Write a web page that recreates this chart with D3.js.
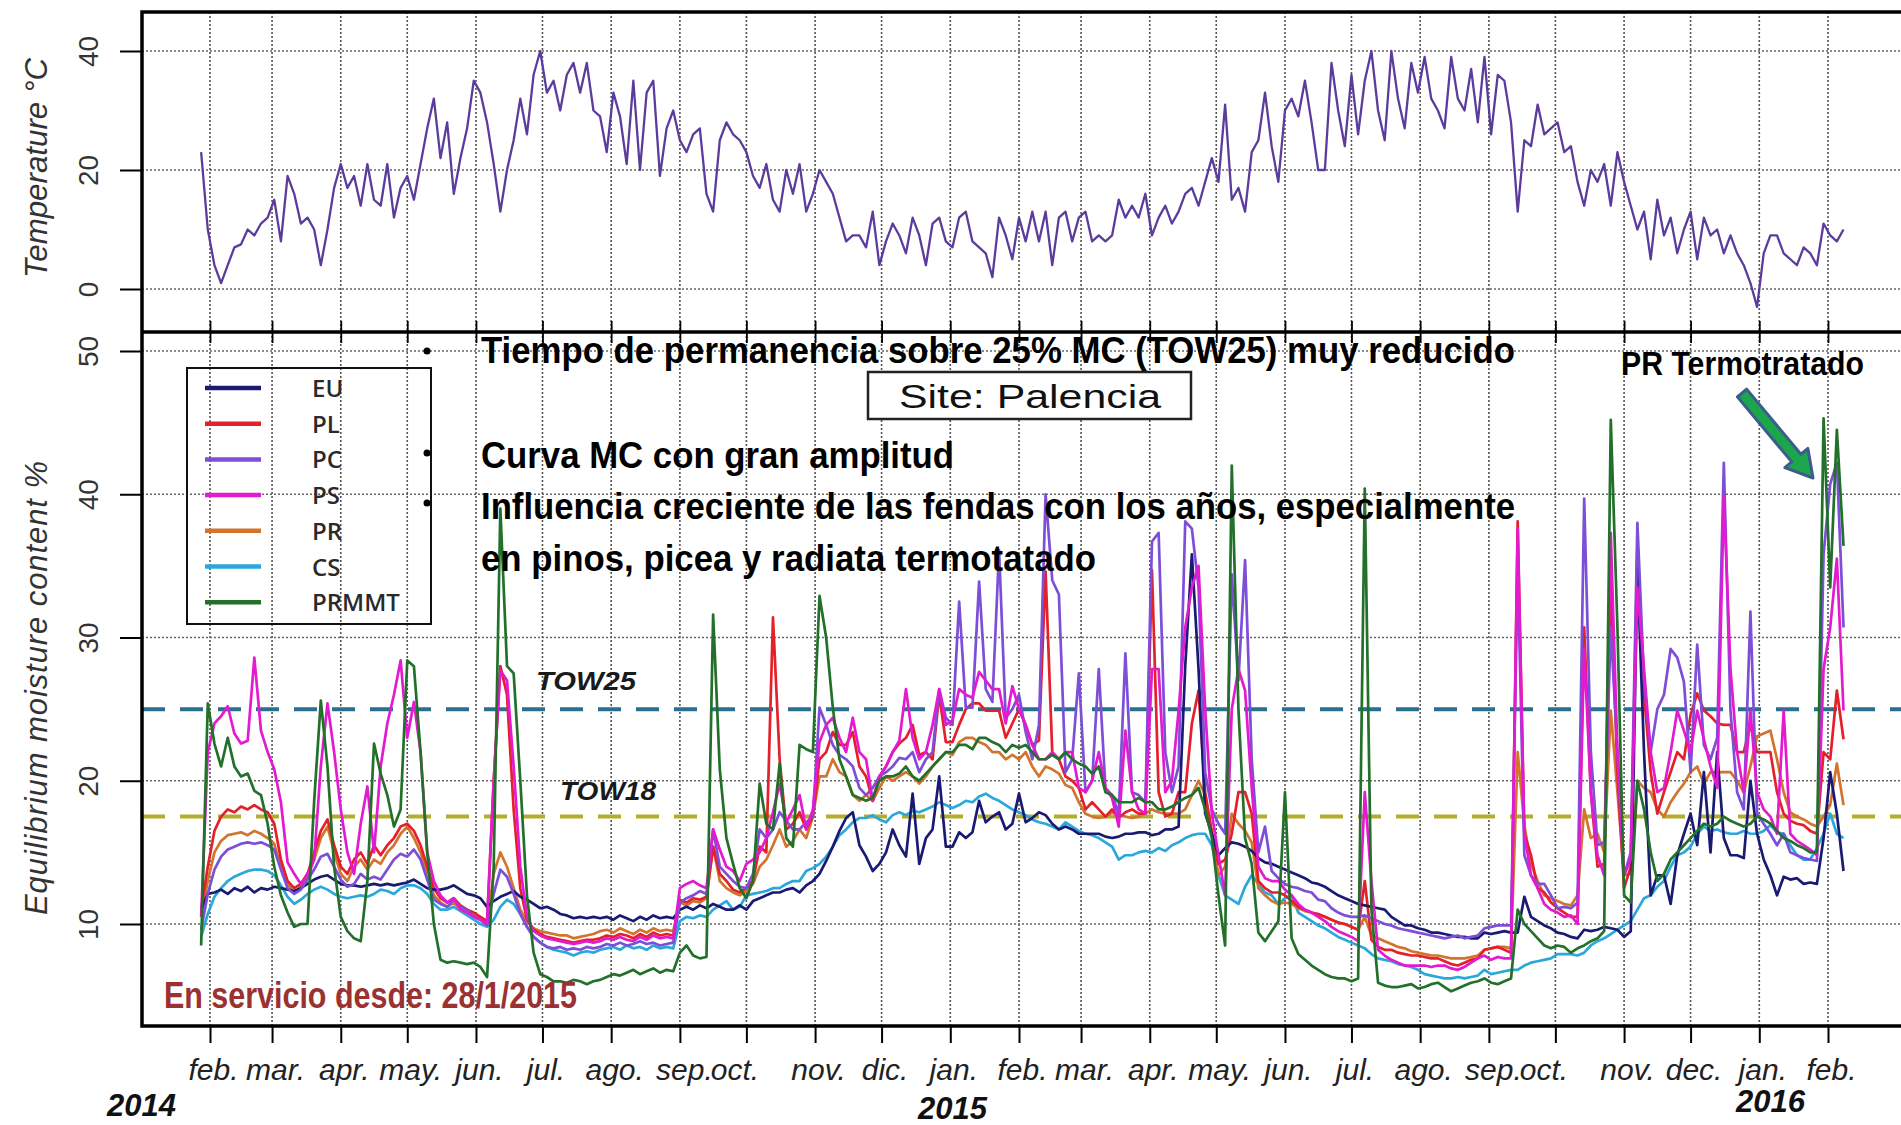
<!DOCTYPE html>
<html><head><meta charset="utf-8">
<script src="https://cdn.jsdelivr.net/npm/d3@7"></script>
<style>body{margin:0;background:#fff;overflow:hidden}</style>
</head><body>
<svg id="c" width="1901" height="1125"></svg>
<script>
// ---------- DATA ----------
const startDate = "2014-01-28";   // first sample
const stepDays = 3;               // sampling step of the series below
const monthLabels = ["feb.","mar.","apr.","may.","jun.","jul.","ago.","sep.","oct.","nov.","dic.","jan.","feb.","mar.","apr.","may.","jun.","jul.","ago.","sep.","oct.","nov.","dec.","jan.","feb."];
const yearLabels = ["2014","2015","2016"];
const tempTicks = [0,20,40];
const mcTicks = [10,20,30,40,50];
const seriesNames = ["EU","PL","PC","PS","PR","CS","PRMMT"];
const thresholds = [25,17.5];
const thresholdLabels = ["TOW25","TOW18"];

const temperature = [
23,10,4,1,4,7,7.5,10,9,11, 12,15,8,19,16,11,12,10,4,10, 17,21,17,19,14,21,15,14,21,12,
17,19,15,21,27,32,22,28,16,22, 27,35,33,28,21,13,20,25,32,26, 36,40,33,35,30,36,38,33,38,30,
29,23,33,29,21,35,20,33,35,19, 27,30,25,23,26,27,16,13,25,28, 26,25,23,19,17,21,15,13,20,16,
21,13,16,20,18,16,12,8,9,9, 7,13,4,8,11,9,6,12,9,4, 11,12,8,7,12,13,8,7,6,2,
12,9,5,12,8,13,8,13,4,12, 13,8,12,13,8,9,8,9,15,12, 14,12,16,9,12,14,11,13,16,17,
14,18,22,18,31,15,17,13,23,25, 33,24,18,30,32,29,35,28,20,20, 38,30,24,36,26,35,40,30,25,40,
32,27,38,33,39,32,30,27,39,32, 30,37,28,39,26,36,35,28,13,25, 24,31,26,27,28,23,24,18,14,20,
18,21,14,23,18,14,10,13,5,15, 9,12,6,10,13,5,12,9,10,6, 9,6,4,1,-3,6,9,9,6,5,
4,7,6,4,11,9,8,10];

const EU = [
11.0,12.1,12.2,12.4,12.1,12.5,12.3,12.6,12.2,12.5, 12.4,12.6,12.5,12.4,12.3,12.5,12.8,13.1,13.3,13.4,
13.1,12.8,12.7,12.7,12.6,12.7,12.8,12.7,12.8,12.7, 12.8,12.9,13.1,12.8,12.5,12.4,12.4,12.5,12.7,12.4,
12.1,12.0,11.8,11.2,11.6,11.9,12.1,12.3,11.9,11.7, 11.4,11.1,11.2,11.0,10.7,10.6,10.4,10.5,10.4,10.5,
10.4,10.5,10.3,10.6,10.4,10.2,10.5,10.3,10.6,10.4, 10.5,10.4,11.0,11.2,11.0,11.3,11.1,11.4,11.2,11.0,
11.0,11.3,11.0,11.6,11.8,12.0,12.2,12.2,12.4,12.5, 12.2,12.7,13.0,13.5,14.4,15.4,16.5,17.4,17.8,15.5,
14.7,13.7,14.2,15.0,16.6,15.5,14.7,19.1,14.2,16.0, 16.6,20.3,15.4,15.4,16.4,16.0,16.4,18.6,17.1,17.5,
17.8,16.6,17.0,19.1,17.1,17.4,17.8,17.6,17.0,16.6, 16.8,16.6,16.3,16.3,16.3,16.3,16.1,16.0,16.1,16.3,
16.3,16.4,16.4,16.2,16.3,16.6,16.6,16.8,28.0,35.8, 27.8,17.7,16.3,14.8,15.3,15.7,15.6,15.4,15.1,14.6,
14.3,14.2,14.0,13.8,13.6,13.4,13.2,12.9,12.8,12.6, 12.3,12.0,11.8,11.6,11.4,11.3,11.2,11.1,11.0,10.5,
10.2,9.9,9.9,9.7,9.6,9.4,9.4,9.3,9.2,9.1, 9.1,9.0,9.0,9.4,9.3,9.4,9.5,9.4,9.4,11.9,
10.5,10.2,9.9,9.7,9.4,9.3,9.1,9.0,9.6,9.5, 9.6,9.8,9.7,9.6,9.1,9.5,35.0,22.0,12.0,13.4,
13.4,11.4,14.8,16.3,17.7,15.5,20.6,15.0,22.0,16.0, 14.8,14.8,14.6,20.0,16.3,14.5,13.4,12.0,13.3,13.1,
13.2,12.8,12.9,12.8,16.0,20.6,17.7,13.7];

const PL = [
11.0,14.0,16.5,17.5,18.0,17.8,18.2,18.0,18.3,18.0, 17.8,17.0,14.5,13.0,12.5,12.8,13.5,15.0,16.5,17.3,
15.5,14.0,13.5,14.5,15.0,14.2,15.5,14.8,15.5,16.0, 16.8,17.0,16.5,15.5,14.0,12.5,11.8,11.5,11.8,11.3,
11.0,10.8,10.5,10.2,20.0,28.0,26.0,18.0,12.5,10.3, 9.6,9.3,9.1,9.0,8.9,8.8,8.7,8.8,8.9,8.9,
9.0,9.2,9.1,9.3,9.2,9.0,9.3,9.1,9.4,9.2, 9.3,9.2,11.7,11.5,11.8,11.7,11.9,15.4,13.5,13.0,
12.4,12.2,12.5,13.0,15.4,15.0,31.4,21.5,16.6,17.0, 17.8,16.6,17.5,21.5,22.0,23.4,22.5,22.5,23.4,21.0,
20.3,18.6,20.3,21.0,22.0,22.6,23.0,23.9,21.8,22.0, 21.5,26.0,22.7,22.7,23.9,25.0,25.4,25.4,24.9,24.9,
24.9,23.0,24.0,25.0,23.9,22.5,22.8,34.6,22.0,21.5, 20.3,20.0,19.5,18.0,18.5,18.0,17.5,18.0,17.4,17.8,
18.0,17.7,17.7,34.7,19.2,17.5,17.7,19.2,19.2,24.0, 26.3,19.2,16.3,14.2,14.5,16.3,19.2,19.2,17.7,13.0,
12.5,12.2,12.2,12.0,11.6,11.2,11.0,10.8,10.7,10.5, 10.3,10.1,10.0,9.8,9.6,13.0,8.9,8.4,8.2,8.2,
8.0,7.9,7.8,7.8,7.7,7.6,7.6,7.4,7.2,7.1, 7.3,7.5,7.6,8.2,8.3,8.4,8.2,8.0,38.1,16.3,
14.8,12.5,12.2,11.5,11.1,10.8,10.5,10.5,30.7,19.2, 14.0,14.2,33.5,20.6,12.5,14.0,36.4,26.0,20.6,17.7,
19.2,20.6,22.0,21.5,24.6,26.1,24.9,24.5,24.0,23.9, 23.9,22.0,22.0,23.9,22.0,22.0,22.0,19.2,17.7,17.2,
17.0,16.9,16.5,16.3,22.0,21.5,26.3,22.9];

const PC = [
9.6,12.1,13.8,14.7,15.2,15.4,15.6,15.7,15.6,15.7, 15.5,15.2,13.8,12.5,12.1,12.4,13.1,13.8,14.7,14.9,
14.0,13.1,12.6,12.8,13.5,13.1,13.3,13.1,13.8,14.5, 14.9,14.7,15.2,14.5,13.1,11.7,11.4,11.2,11.7,11.2,
11.0,10.5,10.3,9.9,12.1,13.8,13.3,12.1,10.7,9.8, 9.1,8.7,8.4,8.3,8.4,8.2,8.3,8.2,8.4,8.3,
8.4,8.6,8.5,8.7,8.5,8.6,8.8,8.6,8.7,8.5, 8.6,8.7,11.5,11.8,12.0,12.3,12.1,16.6,14.0,13.5,
13.0,12.6,12.5,13.5,16.6,16.0,16.6,17.8,17.2,16.6, 16.6,17.1,17.5,25.1,23.9,22.5,21.8,21.5,21.0,19.5,
19.0,19.5,20.3,20.6,21.0,21.6,21.5,22.0,20.6,21.5, 22.0,26.4,24.4,23.9,32.5,25.1,25.1,33.9,26.4,25.5,
36.1,24.4,25.0,26.0,23.4,21.5,23.9,40.0,34.0,33.0, 20.6,21.5,27.5,19.2,20.0,27.8,19.5,19.0,17.7,28.9,
19.2,19.0,18.5,36.7,37.3,22.0,19.2,21.0,38.1,37.6, 33.5,20.6,18.0,17.0,16.3,34.4,27.0,35.4,21.5,15.0,
16.8,13.7,13.2,12.8,12.6,12.5,12.3,12.2,11.7,11.6, 11.1,10.8,10.6,10.5,10.5,10.6,10.4,10.2,10.0,9.9,
9.7,9.6,9.5,9.4,9.3,9.2,9.1,9.0,9.1,9.2, 9.0,9.1,9.2,9.7,9.8,9.9,9.9,9.9,35.0,14.8,
13.4,12.8,12.8,12.0,11.1,11.2,11.1,11.5,39.7,22.0, 15.5,15.7,30.7,22.0,13.4,15.0,38.0,27.0,22.0,25.0,
26.0,29.2,28.6,26.9,20.6,29.5,22.5,21.5,23.0,42.2, 24.9,19.2,18.0,31.8,17.7,17.0,16.3,15.5,16.3,15.0,
14.8,14.6,14.5,14.4,35.8,40.7,42.2,30.7];

const PS = [
10.5,22.0,24.0,24.5,25.2,23.3,22.6,22.8,28.6,23.5, 22.0,20.8,18.5,14.3,13.5,12.8,13.5,14.5,21.0,25.4,
22.0,18.0,15.0,13.5,17.0,19.6,15.0,21.0,24.0,26.0, 28.4,23.0,25.5,22.0,15.0,13.0,12.0,11.5,11.8,11.0,
10.8,10.5,10.3,10.0,20.0,27.7,27.0,21.0,14.0,10.5, 9.5,9.2,9.0,8.9,8.8,8.7,8.6,8.7,8.8,8.7,
8.8,9.0,8.9,9.1,8.9,8.8,9.1,8.9,9.2,9.0, 9.1,9.0,12.5,12.8,13.0,12.7,12.5,16.6,15.2,14.0,
13.7,13.0,14.2,14.5,15.0,16.0,17.8,19.8,17.1,18.0, 19.0,16.6,18.0,22.7,23.9,24.4,23.0,22.0,24.4,22.0,
21.5,18.6,20.3,21.0,22.0,22.8,26.4,23.0,21.5,22.0, 23.9,26.4,23.9,24.2,26.4,26.0,25.8,27.6,27.0,26.4,
26.4,24.0,26.6,25.0,23.9,22.5,21.5,21.5,22.0,21.5, 22.0,22.0,19.5,19.2,20.0,22.0,19.5,18.8,16.8,23.5,
19.2,18.0,17.7,27.8,27.8,19.2,20.0,24.9,30.7,33.5, 35.0,25.0,17.7,14.8,12.0,25.0,27.8,26.3,19.5,14.0,
13.2,13.0,13.0,12.4,12.0,11.4,11.0,10.8,10.5,10.2, 9.8,9.5,9.3,9.1,8.8,19.2,13.0,8.2,7.8,7.5,
7.3,7.1,7.1,7.1,7.1,7.0,7.1,7.1,6.9,6.8, 7.0,7.3,7.6,7.8,7.5,7.7,7.6,7.6,37.6,16.3,
13.4,12.5,11.4,11.0,10.8,10.5,10.6,10.0,29.2,19.2, 14.8,13.4,37.3,22.0,13.4,14.5,33.5,27.8,22.0,19.2,
19.5,22.0,24.9,23.5,22.0,24.9,22.9,21.0,19.5,39.9, 27.8,22.0,19.2,24.9,19.2,18.0,17.5,16.3,24.9,16.3,
15.8,15.5,15.2,14.8,27.8,30.7,35.5,24.9];

const PR = [
10.5,13.0,15.0,15.8,16.2,16.3,16.4,16.2,16.5,16.3, 16.0,15.6,14.0,12.8,12.2,12.6,13.2,14.5,16.0,16.8,
15.0,13.5,13.0,14.0,14.5,13.8,14.5,14.2,15.0,15.5, 16.3,16.8,16.0,15.0,13.5,12.0,11.5,11.2,11.5,11.0,
10.8,10.6,10.4,10.1,13.5,15.0,14.0,12.5,11.0,10.2, 9.7,9.5,9.4,9.3,9.2,9.2,9.0,9.1,9.2,9.3,
9.5,9.6,9.4,9.7,9.5,9.3,9.6,9.4,9.7,9.5, 9.6,9.5,11.5,11.3,11.6,11.5,11.8,15.4,13.0,12.5,
12.2,12.0,12.3,12.8,14.0,14.5,15.5,16.6,15.4,15.8, 16.6,16.0,17.5,20.3,20.3,21.5,20.6,20.3,19.0,18.6,
19.0,18.6,19.5,20.3,20.0,20.3,20.6,20.3,19.8,20.3, 21.0,21.5,22.0,21.8,22.7,23.0,23.0,22.7,22.5,22.0,
22.0,21.5,21.8,21.5,22.0,21.0,20.3,21.0,20.8,20.5, 19.7,19.5,18.5,17.7,17.5,17.4,17.5,17.8,17.6,17.5,
17.4,17.5,17.7,18.0,17.8,17.7,17.7,17.7,18.0,19.0, 20.0,19.0,16.5,13.4,14.0,17.7,17.0,16.5,15.7,12.5,
12.0,11.6,11.4,11.5,11.4,11.1,10.9,10.8,10.6,10.5, 10.3,10.1,10.0,9.8,9.6,10.5,9.2,9.0,8.8,8.6,
8.4,8.3,8.1,8.0,7.9,7.8,7.8,7.7,7.6,7.6, 7.6,7.7,7.8,8.2,8.3,8.4,8.4,8.3,22.0,16.9,
14.2,13.0,12.0,11.8,11.6,11.4,11.3,12.0,18.0,16.0, 16.3,15.0,24.9,19.2,13.4,13.5,20.0,19.5,19.2,18.0,
17.5,18.5,19.2,19.8,20.6,21.0,19.8,20.6,20.6,20.6, 20.6,20.0,19.2,21.0,23.1,23.3,23.5,21.5,19.2,17.8,
17.5,17.3,17.0,16.8,17.5,18.3,21.2,18.3];

const CS = [
9.1,10.7,11.9,12.5,13.0,13.3,13.5,13.7,13.8,13.8, 13.7,13.4,12.7,11.9,11.4,11.7,12.1,12.4,12.6,12.4,
12.1,11.9,11.8,11.9,12.0,11.9,12.1,12.4,12.3,12.1, 12.5,12.7,12.7,12.5,12.1,11.4,11.0,11.0,11.2,10.9,
10.6,10.3,10.0,9.8,10.3,11.2,11.7,11.4,10.7,9.8, 9.1,8.7,8.4,8.2,8.1,8.0,7.8,8.0,8.1,8.0,
8.2,8.3,8.4,8.2,8.5,8.3,8.4,8.2,8.5,8.3, 8.4,8.3,10.2,10.5,10.4,10.6,10.5,11.0,11.3,11.6,
11.0,11.2,12.0,12.1,12.2,12.3,12.5,12.5,12.8,13.0, 13.0,13.7,13.9,14.2,14.7,15.4,16.2,16.6,17.1,17.4,
17.4,17.6,17.3,17.1,17.6,17.8,17.6,17.9,17.8,18.0, 18.2,18.5,18.3,18.1,18.3,18.6,18.5,18.9,19.1,18.8,
18.6,18.3,18.0,17.8,17.6,17.3,17.1,17.0,16.8,16.6, 17.1,16.8,16.5,16.3,16.2,16.0,15.7,15.4,14.5,14.8,
14.8,15.0,15.1,15.0,15.3,15.1,15.5,15.7,16.0,16.2, 16.3,16.3,15.5,13.4,12.0,11.7,11.4,12.6,13.4,12.8,
12.2,12.0,11.4,11.8,12.0,10.8,10.5,10.2,9.9,9.7, 9.4,9.1,8.9,8.7,8.5,8.3,7.9,7.6,7.5,7.4,
7.2,7.1,7.0,6.8,6.5,6.4,6.3,6.2,6.2,6.3, 6.2,6.3,6.4,6.8,6.5,6.6,6.7,6.8,6.8,7.1,
7.3,7.4,7.5,7.6,7.9,7.9,7.9,7.8,8.0,8.5, 8.8,9.0,9.3,9.6,9.9,10.2,11.0,11.8,12.0,12.6,
13.0,14.0,14.8,15.0,15.4,16.3,16.8,16.5,16.6,16.4, 16.3,16.3,16.5,16.3,16.3,16.5,16.9,16.4,16.3,15.5,
14.8,14.5,14.5,15.3,16.3,17.7,16.3,16.0];

const PRMMT = [
8.5,25.4,22.6,21.0,23.0,21.0,20.3,20.5,19.3,19.0, 17.0,14.0,12.0,10.8,9.8,10.0,10.0,18.6,25.6,21.0,
14.0,10.5,9.5,9.0,8.8,13.0,22.6,20.5,19.0,16.8, 18.0,28.4,28.0,22.0,15.0,10.0,7.5,7.3,7.4,7.3,
7.2,7.3,7.0,6.3,14.0,39.0,28.0,27.5,20.0,12.0, 8.0,6.5,6.3,6.0,6.0,5.9,6.1,6.0,5.8,6.0,
6.1,6.3,6.5,6.4,6.6,6.8,6.5,6.7,6.9,6.6, 6.8,6.7,8.0,8.5,7.8,7.6,7.7,31.6,20.8,16.0,
14.2,12.5,11.8,13.0,19.8,17.0,16.6,21.2,16.0,15.4, 22.5,22.2,22.0,32.9,30.0,25.1,21.5,20.3,19.0,18.8,
18.6,18.8,20.0,20.3,20.3,20.5,21.0,20.3,20.0,20.5, 21.0,21.5,22.0,22.0,22.5,22.5,22.2,23.0,23.0,22.7,
22.5,22.0,22.5,22.3,22.5,22.0,21.5,21.5,21.8,21.5, 22.0,21.5,21.2,21.0,20.5,21.0,19.2,19.0,18.5,18.5,
18.5,18.8,18.5,18.5,18.0,18.0,18.2,18.5,18.8,19.0, 19.5,18.0,16.0,12.0,8.5,42.0,25.0,16.0,14.2,9.4,
8.8,9.5,10.2,19.2,9.0,7.9,7.5,7.1,6.8,6.5, 6.3,6.2,6.2,6.0,6.2,40.4,11.0,5.9,5.7,5.6,
5.6,5.7,5.8,5.5,5.6,5.8,5.9,5.6,5.3,5.5, 5.7,5.9,6.0,6.2,5.9,5.8,6.0,6.2,11.0,10.0,
9.5,9.0,8.5,8.3,8.5,8.4,8.0,8.3,8.5,8.8, 9.0,9.5,45.2,30.7,12.0,11.5,20.0,18.0,15.0,13.0,
13.5,14.5,15.0,15.5,16.0,16.5,17.0,16.8,17.0,17.5, 17.2,17.0,16.8,17.0,17.5,17.3,17.0,16.5,16.0,15.8,
15.5,15.3,15.0,15.0,45.3,33.5,44.5,36.4];

// ---------- STYLE ----------
const colors = {EU:"#1a1a72",PL:"#e4202a",PC:"#7d4fd8",PS:"#e21ad0",PR:"#d2742e",CS:"#2aa8dc",PRMMT:"#22702a"};
const seriesData = {EU,PL,PC,PS,PR,CS,PRMMT};
const drawOrder = ["CS","PR","PL","EU","PC","PS","PRMMT"];

const svg = d3.select("#c");
const X0 = 142, X1 = 1910, TT = 12, MID = 332, BOT = 1026;
const parse = d3.utcParse("%Y-%m-%d");
const t0 = parse(startDate);
const dateAt = i => d3.utcDay.offset(t0, i*stepDays);

const x = d3.scaleUtc().domain([parse("2014-02-01"), parse("2016-02-01")]).range([210, 1828]);
const yT = d3.scaleLinear().domain([0,40]).range([289,51]);
const yM = d3.scaleLinear().domain([10,50]).range([924,351]);
const months = d3.utcMonth.range(parse("2014-02-01"), parse("2016-02-02"));

const defs = svg.append("defs");
defs.append("clipPath").attr("id","cT").append("rect").attr("x",X0).attr("y",TT).attr("width",X1-X0).attr("height",MID-TT);
defs.append("clipPath").attr("id","cM").append("rect").attr("x",X0).attr("y",MID).attr("width",X1-X0).attr("height",BOT-MID);

// grids
const grid = svg.append("g");
months.forEach(m=>{
  grid.append("line").attr("x1",x(m)).attr("x2",x(m)).attr("y1",TT).attr("y2",BOT)
    .attr("stroke","#555").attr("stroke-width",1.6).attr("stroke-dasharray","2,2");
});
tempTicks.forEach(v=>grid.append("line").attr("x1",X0).attr("x2",X1).attr("y1",yT(v)).attr("y2",yT(v))
  .attr("stroke","#666").attr("stroke-width",1.6).attr("stroke-dasharray","2,2"));
mcTicks.forEach(v=>grid.append("line").attr("x1",X0).attr("x2",X1).attr("y1",yM(v)).attr("y2",yM(v))
  .attr("stroke","#666").attr("stroke-width",1.6).attr("stroke-dasharray","2,2"));

// threshold lines
const thrColors = ["#2a6f90","#b3ad2c"];
thresholds.forEach((v,k)=>{
  svg.append("line").attr("x1",X0).attr("x2",X1).attr("y1",yM(v)).attr("y2",yM(v))
    .attr("stroke",thrColors[k]).attr("stroke-width",4).attr("stroke-dasharray","23,15");
});

// temperature line
const idx = d3.range(temperature.length);
svg.append("path").datum(idx).attr("clip-path","url(#cT)")
  .attr("fill","none").attr("stroke","#5b3c9c").attr("stroke-width",2.3).attr("stroke-linejoin","round")
  .attr("d", d3.line().x(i=>x(dateAt(i))).y(i=>yT(temperature[i])));

// moisture lines
const gM = svg.append("g").attr("clip-path","url(#cM)");
drawOrder.forEach(name=>{
  const arr = seriesData[name];
  gM.append("path").datum(d3.range(arr.length))
    .attr("fill","none").attr("stroke",colors[name]).attr("stroke-width",2.7).attr("stroke-linejoin","round")
    .attr("d", d3.line().x(i=>x(dateAt(i))).y(i=>yM(arr[i])));
});

// threshold labels
const axFont = "'Liberation Sans',Arial,sans-serif";
const thrLab = svg.append("g").attr("font-family",axFont).attr("font-weight","bold")
  .attr("font-style","italic").attr("font-size",26).attr("fill","#1a1a1a");
thrLab.append("text").attr("x",536).attr("y",690).attr("textLength",100).attr("lengthAdjust","spacingAndGlyphs").text(thresholdLabels[0]);
thrLab.append("text").attr("x",560).attr("y",800).attr("textLength",96).attr("lengthAdjust","spacingAndGlyphs").text(thresholdLabels[1]);

// frame
svg.append("path").attr("d",`M${X1},${TT}H${X0}V${BOT}H${X1}`).attr("fill","none").attr("stroke","#000").attr("stroke-width",3.5);
svg.append("line").attr("x1",X0).attr("x2",X1).attr("y1",MID).attr("y2",MID).attr("stroke","#000").attr("stroke-width",3.5);

// axes
const xAx = svg.append("g").attr("transform",`translate(0,${BOT})`)
  .call(d3.axisBottom(x).tickValues(months).tickFormat((d,i)=>monthLabels[i]).tickSize(17).tickPadding(16));
xAx.select(".domain").remove();
xAx.selectAll("line").attr("stroke","#000").attr("stroke-width",2);
xAx.selectAll("text").attr("font-family",axFont).attr("font-style","italic").attr("font-size",30).attr("fill","#222")
  .attr("dx",(d,i)=> monthLabels[i]==="oct." ? -12 : (monthLabels[i]==="sep." ? 4 : 3));

const midAx = svg.append("g").attr("transform",`translate(0,321)`)
  .call(d3.axisBottom(x).tickValues(months).tickFormat("").tickSize(22));
midAx.select(".domain").remove();
midAx.selectAll("line").attr("stroke","#000").attr("stroke-width",1.8);

function leftAxis(scale, ticks){
  const g = svg.append("g").attr("transform",`translate(${X0},0)`)
    .call(d3.axisLeft(scale).tickValues(ticks).tickSize(22));
  g.select(".domain").remove();
  g.selectAll("line").attr("stroke","#000").attr("stroke-width",2);
  g.selectAll("text").attr("x",0).attr("dy",0).attr("text-anchor","middle")
    .attr("transform","translate(-44,0) rotate(-90)")
    .attr("font-family",axFont).attr("font-size",28).attr("fill","#333");
  return g;
}
leftAxis(yT, tempTicks);
leftAxis(yM, mcTicks);

// axis titles
svg.append("text").attr("transform","translate(47,168) rotate(-90)").attr("text-anchor","middle")
  .attr("font-family",axFont).attr("font-style","italic").attr("font-size",31).attr("fill","#333")
  .attr("textLength",220).attr("lengthAdjust","spacingAndGlyphs").text("Temperature °C");
svg.append("text").attr("transform","translate(47,688) rotate(-90)").attr("text-anchor","middle")
  .attr("font-family",axFont).attr("font-style","italic").attr("font-size",31).attr("fill","#333")
  .attr("textLength",454).attr("lengthAdjust","spacing").text("Equilibrium  moisture  content  %");

// year labels
const yl = svg.append("g").attr("font-family",axFont).attr("font-style","italic").attr("font-weight","bold").attr("font-size",31).attr("fill","#111");
yl.append("text").attr("x",107).attr("y",1116).text(yearLabels[0]);
yl.append("text").attr("x",918).attr("y",1119).text(yearLabels[1]);
yl.append("text").attr("x",1736).attr("y",1112).text(yearLabels[2]);

// legend
const lg = svg.append("g");
lg.append("rect").attr("x",187).attr("y",368).attr("width",244).attr("height",256).attr("fill","none").attr("stroke","#111").attr("stroke-width",2);
seriesNames.forEach((n,k)=>{
  const yy = 388 + k*35.7;
  lg.append("line").attr("x1",205).attr("x2",261).attr("y1",yy).attr("y2",yy).attr("stroke",colors[n]).attr("stroke-width",4.5);
  lg.append("text").attr("x",312).attr("y",yy+9).attr("font-family","'Open Sans',sans-serif").attr("font-size",24)
    .attr("font-weight",600).attr("fill","#2a2a2a").text(n);
});

// site box
svg.append("rect").attr("x",868).attr("y",372).attr("width",323).attr("height",47).attr("fill","#fff").attr("stroke","#222").attr("stroke-width",2.5);
svg.append("text").attr("x",1030).attr("y",408).attr("text-anchor","middle").attr("font-family",axFont).attr("font-size",34)
  .attr("fill","#111").attr("textLength",262).attr("lengthAdjust","spacingAndGlyphs").text("Site: Palencia");

// annotations
const nar = "'Liberation Sans Narrow','Arial Narrow','Liberation Sans',sans-serif";
const ann = svg.append("g").attr("font-family",nar).attr("font-weight","bold").attr("font-size",37).attr("fill","#000");
[351,453,503].forEach(yy=>ann.append("circle").attr("cx",427).attr("cy",yy).attr("r",3.5).attr("fill","#000"));
const lines = [
  ["Tiempo de permanencia sobre 25% MC (TOW25) muy reducido",481,363,1034],
  ["Curva MC con gran amplitud",481,468,473],
  ["Influencia creciente de las fendas con los años, especialmente",481,519,1034],
  ["en pinos, picea y radiata termotatado",481,571,615]
];
lines.forEach(([t,xx,yy,w])=>ann.append("text").attr("x",xx).attr("y",yy).attr("textLength",w).attr("lengthAdjust","spacingAndGlyphs").text(t));
ann.append("text").attr("x",1621).attr("y",375).attr("font-size",33).attr("textLength",243).attr("lengthAdjust","spacingAndGlyphs").text("PR Termotratado");
svg.append("text").attr("x",164).attr("y",1008).attr("font-family",nar).attr("font-weight","bold").attr("font-size",36)
  .attr("fill","#9b3131").attr("textLength",413).attr("lengthAdjust","spacingAndGlyphs").text("En servicio desde: 28/1/2015");

// arrow
const ax0=1742, ay0=393, ax1=1813, ay1=478;
const L = Math.hypot(ax1-ax0, ay1-ay0), ang = Math.atan2(ay1-ay0, ax1-ax0)*180/Math.PI;
const hw=6, hh=15, hl=26;
svg.append("path").attr("transform",`translate(${ax0},${ay0}) rotate(${ang})`)
  .attr("d",`M0,${-hw}L${L-hl},${-hw}L${L-hl},${-hh}L${L},0L${L-hl},${hh}L${L-hl},${hw}L0,${hw}Z`)
  .attr("fill","#1ba64c").attr("stroke","#3c5b8e").attr("stroke-width",3).attr("stroke-linejoin","round");
</script>
</body></html>
